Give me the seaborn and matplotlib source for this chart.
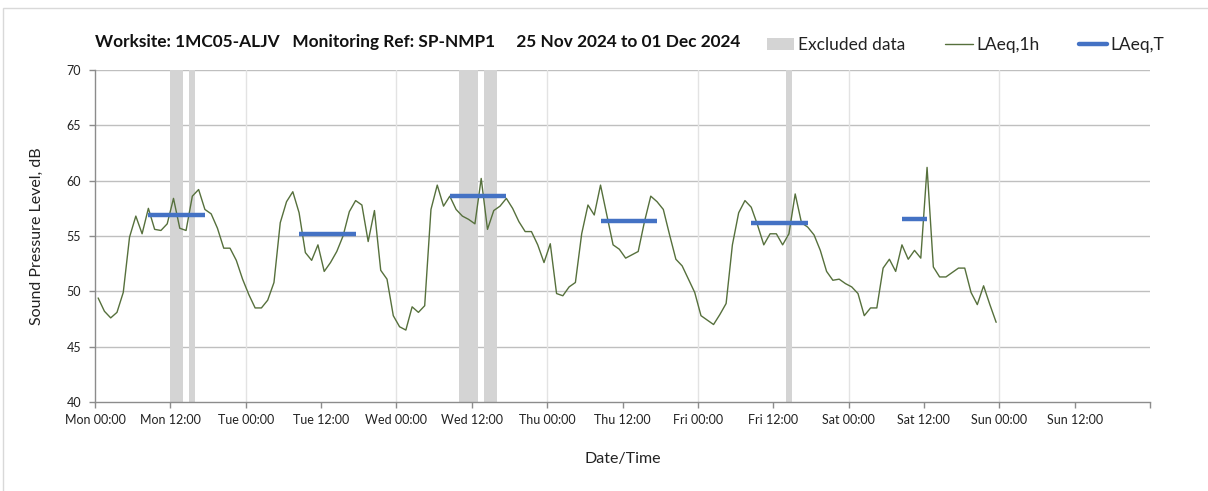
import numpy as np
import pandas as pd
import matplotlib
matplotlib.use("Agg")
import matplotlib.pyplot as plt
import matplotlib.dates as mdates
from matplotlib.patches import Patch, Rectangle
from matplotlib.lines import Line2D
from matplotlib.ticker import FuncFormatter
import seaborn as sns

# ---------------- data ----------------
start_time = "2024-11-25 00:30"
laeq_1h = [
    49.4, 48.2, 47.6, 48.1, 49.9, 54.9, 56.8, 55.2, 57.5, 55.6, 55.5, 56.1,
    58.4, 55.7, 55.5, 58.6, 59.2, 57.4, 57.0, 55.7, 53.9, 53.9, 52.8, 51.1,
    49.7, 48.5, 48.5, 49.2, 50.8, 56.2, 58.1, 59.0, 57.1, 53.5, 52.8, 54.2,
    51.8, 52.6, 53.6, 55.0, 57.2, 58.2, 57.8, 54.5, 57.3, 51.9, 51.1, 47.8,
    46.8, 46.5, 48.6, 48.1, 48.7, 57.4, 59.6, 57.7, 58.6, 57.4, 56.8, 56.5,
    56.1, 60.2, 55.6, 57.3, 57.7, 58.4, 57.5, 56.3, 55.4, 55.4, 54.2, 52.6,
    54.3, 49.8, 49.6, 50.4, 50.8, 55.2, 57.8, 56.9, 59.6, 56.9, 54.2, 53.8,
    53.0, 53.3, 53.6, 56.3, 58.6, 58.1, 57.4, 55.1, 52.9, 52.3, 51.1, 49.9,
    47.8, 47.4, 47.0, 47.9, 48.9, 54.2, 57.1, 58.2, 57.6, 56.0, 54.2, 55.2,
    55.2, 54.2, 55.2, 58.8, 56.2, 55.8, 55.1, 53.7, 51.8, 51.0, 51.1, 50.7,
    50.4, 49.8, 47.8, 48.5, 48.5, 52.1, 52.9, 51.8, 54.2, 52.9, 53.7, 53.0,
    61.2, 52.2, 51.3, 51.3, 51.7, 52.1, 52.1, 49.9, 48.8, 50.5, 48.8, 47.2,
]

laeq_t_start = ["2024-11-25 08:30", "2024-11-26 08:30", "2024-11-27 08:30",
                "2024-11-28 08:30", "2024-11-29 08:30", "2024-11-30 08:30"]
laeq_t_end = ["2024-11-25 17:30", "2024-11-26 17:30", "2024-11-27 17:30",
              "2024-11-28 17:30", "2024-11-29 17:30", "2024-11-30 12:30"]
laeq_t_value = [56.9, 55.2, 58.6, 56.4, 56.2, 56.5]

excluded_start = ["2024-11-25 12:00", "2024-11-25 15:00", "2024-11-27 10:00",
                  "2024-11-27 14:00", "2024-11-29 14:00"]
excluded_end = ["2024-11-25 14:00", "2024-11-25 16:00", "2024-11-27 13:00",
                "2024-11-27 16:00", "2024-11-29 15:00"]

title_text = "Worksite: 1MC05-ALJV   Monitoring Ref: SP-NMP1     25 Nov 2024 to 01 Dec 2024"

# ---------------- build frames ----------------
times = pd.date_range(start_time, periods=len(laeq_1h), freq="h")
df1h = pd.DataFrame({"time": times, "level": laeq_1h})

seg_rows = []
for k, (s, e, v) in enumerate(zip(laeq_t_start, laeq_t_end, laeq_t_value)):
    seg_rows.append({"seg": k, "time": pd.Timestamp(s), "level": v})
    seg_rows.append({"seg": k, "time": pd.Timestamp(e), "level": v})
dft = pd.DataFrame(seg_rows)

# ---------------- style ----------------
sns.set_theme(style="white")
plt.rcParams["font.family"] = ["Lato", "DejaVu Sans"]

green = "#56703c"
blue = "#4472C4"
band_grey = "#d4d4d4"
text_col = "#222222"

fig = plt.figure(figsize=(12.08, 4.91), dpi=100)
ax = fig.add_axes([95 / 1208, 89 / 491, 1055 / 1208, 332 / 491])

# figure border
fig.patches.append(Rectangle((3 / 1208, -0.01), 1.2, 1 - 8 / 491 + 0.01,
                             transform=fig.transFigure, fill=False,
                             edgecolor="#d9d9d9", linewidth=1.0))

# excluded bands
for s, e in zip(excluded_start, excluded_end):
    ax.axvspan(pd.Timestamp(s), pd.Timestamp(e), color=band_grey, lw=0, zorder=1)

sns.lineplot(data=df1h, x="time", y="level", ax=ax, color=green, lw=1.0,
             zorder=3, legend=False)
sns.lineplot(data=dft, x="time", y="level", units="seg", estimator=None, ax=ax,
             color=blue, lw=3.2, zorder=4, legend=False,
             solid_capstyle="butt")

# axes limits & ticks
x0 = pd.Timestamp("2024-11-25 00:00")
x1 = pd.Timestamp("2024-12-02 00:00")
ax.set_xlim(x0, x1)
ax.set_ylim(40, 70)
ax.set_yticks(np.arange(40, 71, 5))
ax.xaxis.set_major_locator(mdates.HourLocator(byhour=[0, 12]))
x1_num = mdates.date2num(x1)


def fmt_x(v, pos=None):
    if abs(v - x1_num) < 1e-6:
        return ""
    return mdates.num2date(v).strftime("%a %H:%M")


ax.xaxis.set_major_formatter(FuncFormatter(fmt_x))

# grids
for y in np.arange(45, 71, 5):
    ax.axhline(y, color="#bfbfbf", lw=1.0, zorder=0)
for d in pd.date_range("2024-11-26", "2024-12-01", freq="D"):
    ax.axvline(d, color="#e3e3e3", lw=1.0, zorder=0)

for side in ["top", "right"]:
    ax.spines[side].set_visible(False)
for side in ["left", "bottom"]:
    ax.spines[side].set_color("#8c8c8c")
    ax.spines[side].set_linewidth(1.0)

ax.tick_params(axis="both", which="major", direction="out", length=4,
               width=1.0, color="#8c8c8c", labelsize=9, labelcolor=text_col,
               bottom=True, left=True, pad=6)
ax.tick_params(axis="x", pad=5)

ax.set_xlabel("Date/Time", fontsize=11.5, color=text_col, labelpad=18)
ax.set_ylabel("Sound Pressure Level, dB", fontsize=11.5, color=text_col,
              labelpad=16)

# title
fig.text(95 / 1208, 1 - 42 / 491, title_text, fontsize=12.4, fontweight="bold",
         color="#111111", ha="left", va="center")

# legend
handles = [
    Patch(facecolor=band_grey, edgecolor="none"),
    Line2D([0], [0], color=green, lw=1.0),
    Line2D([0], [0], color=blue, lw=3.2),
]
labels = ["Excluded data", "LAeq,1h", "LAeq,T"]
fig.legend(handles, labels, loc="center right",
           bbox_to_anchor=(1180 / 1208, 1 - 45 / 491),
           ncol=3, frameon=False, fontsize=12.5, handlelength=1.6,
           handletextpad=0.2, columnspacing=2.3, labelcolor=text_col)

fig.savefig("out.png", dpi=100, facecolor="white")
